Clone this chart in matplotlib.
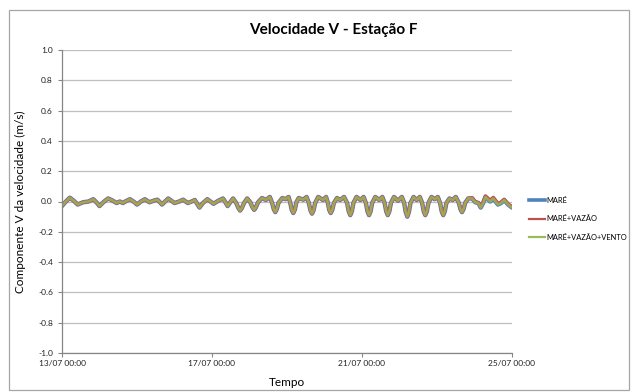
import matplotlib
matplotlib.use("Agg")
import matplotlib.pyplot as plt
from matplotlib.patches import Rectangle
from matplotlib.lines import Line2D

plt.rcParams['font.family'] = ['Lato', 'DejaVu Sans']

# Time in hours since 13/07 00:00
hours = [
    0, 2.5, 5, 7.5, 10, 13.5, 17, 20, 22, 24, 27, 29.5, 32, 35, 37, 39, 41, 43.5,
    46, 48, 50.5, 53, 56, 58.5, 61, 62.5, 64, 66, 68, 70, 72, 75, 77.5, 80.5, 83,
    85, 86.5, 88, 90, 93, 95, 97, 100, 103, 104.5, 106, 108, 109.5, 111.5, 113,
    114, 115, 116.5, 118.5, 120.5, 122, 123, 124, 125.5, 128, 130.5, 133, 134.5,
    135.5, 136.5, 137.5, 138.5, 141, 143, 145, 146, 147, 148, 149, 150, 151.5,
    154.5, 156.5, 158, 159, 160, 161, 162, 164, 167, 169, 170.2, 171, 172, 173,
    174, 176, 178, 180.5, 182.5, 183.5, 184.5, 185.5, 186.5, 188.5, 191, 193,
    194.5, 195.5, 196.5, 197.5, 198.5, 200.5, 203, 205, 206.5, 207.5, 208.5,
    209.5, 210.5, 212.5, 215, 217.5, 219, 220, 221, 222, 223, 225, 227, 229,
    230.5, 231.5, 232.5, 233.5, 234.5, 236.5, 238.5, 240.5, 242, 243, 244, 245,
    246, 248, 250, 252, 254, 255, 256, 257, 258, 260, 262.5, 264.5, 266.5, 268,
    269.5, 271, 274, 276, 279, 281, 283, 285.5, 288,
]

# V component of the velocity (m/s)
mare = [
    -0.03, 0.0, 0.025, 0.005, -0.02, -0.005, 0.0, 0.015, -0.005, -0.03, 0.0, 0.02,
    0.008, -0.01, 0.0, -0.01, 0.003, 0.015, -0.002, -0.02, 0.0, 0.015, -0.005, 0.005,
    0.012, -0.003, -0.02, 0.0, 0.02, 0.005, -0.01, 0.0, 0.012, -0.01, 0.0, 0.01,
    -0.015, -0.04, -0.012, 0.015, 0.0, -0.015, 0.005, 0.02, -0.003, -0.03, 0.0,
    0.02, -0.01, -0.045, -0.06, -0.045, -0.01, 0.02, -0.005, -0.04, -0.055, -0.04,
    -0.005, 0.023, 0.01, 0.03, -0.01, -0.05, -0.07, -0.05, -0.01, 0.023, 0.015,
    0.03, -0.005, -0.055, -0.076, -0.055, -0.005, 0.023, 0.012, 0.03, -0.01,
    -0.058, -0.08, -0.058, -0.01, 0.03, 0.01, 0.03, -0.01, -0.055, -0.076, -0.055,
    -0.01, 0.023, 0.01, 0.03, -0.01, -0.065, -0.09, -0.065, -0.01, 0.03, 0.01,
    0.03, -0.01, -0.065, -0.09, -0.065, -0.01, 0.03, 0.01, 0.03, -0.01, -0.065,
    -0.09, -0.065, -0.01, 0.03, 0.005, 0.03, -0.01, -0.07, -0.1, -0.07, -0.01,
    0.03, 0.01, 0.03, -0.01, -0.065, -0.09, -0.065, -0.01, 0.03, 0.015, 0.03,
    -0.01, -0.065, -0.09, -0.065, -0.01, 0.02, 0.01, 0.03, -0.01, -0.05, -0.07,
    -0.05, -0.01, 0.02, 0.02, -0.005, -0.01, -0.04, -0.01, 0.03, 0.0, 0.02, -0.02,
    -0.01, 0.01, -0.02, -0.04,
]

mare_vazao = [
    -0.03, 0.0, 0.025, 0.005, -0.02, -0.005, 0.0, 0.015, -0.005, -0.03, 0.0, 0.02,
    0.008, -0.01, 0.0, -0.01, 0.003, 0.015, -0.002, -0.02, 0.0, 0.015, -0.005, 0.005,
    0.012, -0.003, -0.02, 0.0, 0.02, 0.005, -0.01, 0.0, 0.012, -0.01, 0.0, 0.01,
    -0.015, -0.04, -0.012, 0.015, 0.0, -0.015, 0.005, 0.02, -0.003, -0.03, 0.0,
    0.02, -0.01, -0.045, -0.06, -0.045, -0.01, 0.02, -0.005, -0.04, -0.055, -0.04,
    -0.005, 0.023, 0.01, 0.03, -0.01, -0.05, -0.07, -0.05, -0.01, 0.023, 0.015,
    0.03, -0.005, -0.055, -0.076, -0.055, -0.005, 0.023, 0.012, 0.03, -0.01,
    -0.058, -0.08, -0.058, -0.01, 0.03, 0.01, 0.03, -0.01, -0.055, -0.076, -0.055,
    -0.01, 0.023, 0.01, 0.03, -0.01, -0.065, -0.09, -0.065, -0.01, 0.03, 0.01,
    0.03, -0.01, -0.065, -0.09, -0.065, -0.01, 0.03, 0.01, 0.03, -0.01, -0.065,
    -0.09, -0.065, -0.01, 0.03, 0.005, 0.03, -0.01, -0.07, -0.1, -0.07, -0.01,
    0.03, 0.01, 0.03, -0.01, -0.065, -0.09, -0.065, -0.01, 0.03, 0.015, 0.03,
    -0.01, -0.065, -0.09, -0.065, -0.01, 0.02, 0.01, 0.03, -0.01, -0.05, -0.07,
    -0.05, -0.01, 0.02, 0.025, -0.002, -0.007, -0.036, -0.005, 0.037, 0.008,
    0.027, -0.013, -0.004, 0.014, -0.016, -0.036,
]

mare_vazao_vento = [
    -0.03, 0.0, 0.025, 0.005, -0.02, -0.005, 0.0, 0.015, -0.005, -0.03, 0.0, 0.02,
    0.008, -0.01, 0.0, -0.01, 0.003, 0.015, -0.002, -0.02, 0.0, 0.015, -0.005, 0.005,
    0.012, -0.003, -0.02, 0.0, 0.02, 0.005, -0.01, 0.0, 0.012, -0.01, 0.0, 0.01,
    -0.015, -0.04, -0.012, 0.015, 0.0, -0.015, 0.005, 0.02, -0.003, -0.03, 0.0,
    0.02, -0.01, -0.045, -0.06, -0.045, -0.01, 0.02, -0.005, -0.04, -0.055, -0.04,
    -0.005, 0.023, 0.01, 0.03, -0.01, -0.05, -0.07, -0.05, -0.01, 0.023, 0.015,
    0.03, -0.005, -0.055, -0.076, -0.055, -0.005, 0.023, 0.012, 0.03, -0.01,
    -0.058, -0.08, -0.058, -0.01, 0.03, 0.01, 0.03, -0.01, -0.055, -0.076, -0.055,
    -0.01, 0.023, 0.01, 0.03, -0.01, -0.065, -0.09, -0.065, -0.01, 0.03, 0.01,
    0.03, -0.01, -0.065, -0.09, -0.065, -0.01, 0.03, 0.01, 0.03, -0.01, -0.065,
    -0.09, -0.065, -0.01, 0.03, 0.005, 0.03, -0.01, -0.07, -0.1, -0.07, -0.01,
    0.03, 0.01, 0.03, -0.01, -0.065, -0.09, -0.065, -0.01, 0.03, 0.015, 0.03,
    -0.01, -0.065, -0.09, -0.065, -0.01, 0.02, 0.01, 0.03, -0.01, -0.05, -0.07,
    -0.05, -0.01, 0.02, 0.02, -0.005, -0.01, -0.04, -0.01, 0.03, 0.0, 0.02, -0.02,
    -0.01, 0.01, -0.02, -0.04,
]

series_names = ["MARÉ", "MARÉ+VAZÃO", "MARÉ+VAZÃO+VENTO"]
series_colors = ["#4F81BD", "#C0504D", "#9BBB59"]

tick_hours = [0, 96, 192, 288]
tick_labels = ["13/07 00:00", "17/07 00:00", "21/07 00:00", "25/07 00:00"]
y_ticks = [-1.0, -0.8, -0.6, -0.4, -0.2, 0.0, 0.2, 0.4, 0.6, 0.8, 1.0]

fig = plt.figure(figsize=(6.36, 3.92), dpi=100)
fig.patches.append(Rectangle((9 / 636, 2 / 392), 620 / 636, 380 / 392,
                             transform=fig.transFigure, fill=False,
                             edgecolor="#A6A6A6", linewidth=0.9))

ax = fig.add_axes([62 / 636, 1 - 353 / 392, 450 / 636, 303 / 392])

style = dict(solid_joinstyle="round", solid_capstyle="round")
ax.plot(hours, mare, color=series_colors[0], lw=3.2, **style)
ax.plot(hours, mare_vazao, color=series_colors[1], lw=2.4, **style)
ax.plot(hours, mare_vazao_vento, color=series_colors[2], lw=1.9, alpha=0.8, **style)

ax.set_xlim(0, 288)
ax.set_ylim(-1.0, 1.0)
ax.set_yticks(y_ticks)
ax.set_yticklabels([f"{v:.1f}" for v in y_ticks])
ax.set_xticks(tick_hours)
ax.set_xticklabels(tick_labels)
ax.yaxis.grid(True, color="#BFBFBF", lw=0.9)
ax.set_axisbelow(True)

for side in ("top", "right"):
    ax.spines[side].set_visible(False)
for side in ("left", "bottom"):
    ax.spines[side].set_color("#868686")
    ax.spines[side].set_linewidth(0.9)

ax.tick_params(axis="both", labelsize=6, colors="#868686", labelcolor="#222222",
               length=3, width=0.8)
ax.tick_params(axis="x", pad=2)

fig.text(333 / 636, 1 - 30 / 392, "Velocidade V - Estação F", fontsize=11,
         fontweight="bold", ha="center", va="center")
ax.set_ylabel("Componente V da velocidade (m/s)", fontsize=8.5, labelpad=9)
ax.set_xlabel("Tempo", fontsize=8.5, labelpad=7)

legend_handles = [
    Line2D([], [], color=series_colors[0], lw=2.6),
    Line2D([], [], color=series_colors[1], lw=1.6),
    Line2D([], [], color=series_colors[2], lw=1.6),
]
fig.legend(legend_handles, series_names, loc="upper left",
           bbox_to_anchor=(522 / 636, 1 - 190 / 392),
           frameon=False, fontsize=5.4, handlelength=2.2, handletextpad=0.15,
           labelspacing=1.55)

fig.savefig("out.png", dpi=100)
